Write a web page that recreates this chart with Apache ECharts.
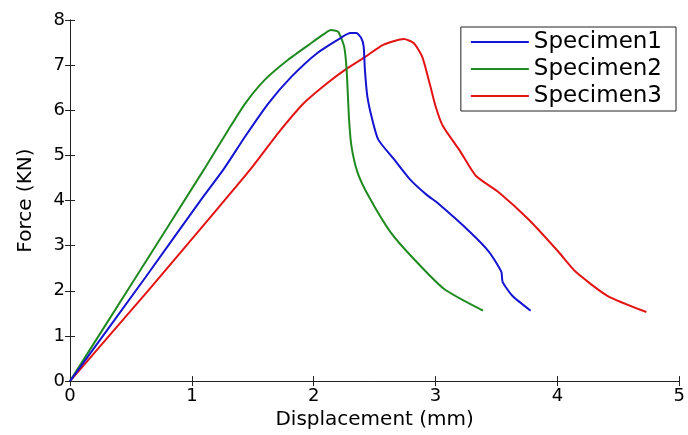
<!DOCTYPE html>
<html>
<head>
<meta charset="UTF-8">
<title>force_displacement</title>
<script src="https://cdn.jsdelivr.net/npm/echarts@6/dist/echarts.min.js"></script>
<style>
  html, body { margin: 0; padding: 0; background: #fff; }
  #main { width: 688px; height: 435px; }
</style>
</head>
<body>
<div id="main"></div>
<script type="text/javascript">
// [displacement (mm), force (KN)]
var specimen1 = [
  [0, 0], [0.62, 2.3], [1.07, 4.0], [1.26, 4.69], [1.44, 5.43], [1.63, 6.16],
  [1.82, 6.75], [2.03, 7.27], [2.22, 7.6], [2.3, 7.71], [2.35, 7.71],
  [2.39, 7.6], [2.41, 7.41], [2.42, 6.9], [2.44, 6.31], [2.48, 5.8],
  [2.53, 5.35], [2.66, 4.91], [2.79, 4.47], [2.93, 4.12], [3.01, 3.96],
  [3.28, 3.31], [3.44, 2.86], [3.54, 2.42], [3.55, 2.2], [3.63, 1.89],
  [3.78, 1.56]
];
var specimen2 = [
  [0, 0], [0.5, 2.13], [1.1, 4.69], [1.3, 5.57], [1.44, 6.16], [1.6, 6.68],
  [1.79, 7.12], [1.98, 7.49], [2.08, 7.68], [2.14, 7.78], [2.2, 7.74],
  [2.25, 7.41], [2.27, 6.9], [2.29, 5.8], [2.31, 5.2], [2.36, 4.62],
  [2.45, 4.1], [2.63, 3.3], [2.82, 2.71], [3.07, 2.04], [3.39, 1.56]
];
var specimen3 = [
  [0, 0], [0.64, 2.0], [1.22, 3.85], [1.48, 4.69], [1.71, 5.5], [1.92, 6.16],
  [2.11, 6.6], [2.28, 6.94], [2.41, 7.16], [2.57, 7.45], [2.74, 7.58],
  [2.82, 7.49], [2.89, 7.19], [2.95, 6.61], [3.0, 6.09], [3.06, 5.65],
  [3.2, 5.1], [3.33, 4.55], [3.52, 4.18], [3.76, 3.59], [4.01, 2.86],
  [4.15, 2.42], [4.41, 1.89], [4.73, 1.53]
];
var names = ['Specimen1', 'Specimen2', 'Specimen3'];
var colors = ['#1414d2', '#1f8a1f', '#e31414'];

var font = 'DejaVu Sans';
var myChart = echarts.init(document.getElementById('main'));

var axisLine = { show: true, lineStyle: { color: '#222', width: 1 } };
var tickIn = { show: true, inside: true, length: 5, lineStyle: { color: '#222' } };

function mkSeries(i, data) {
    return {
        name: names[i], type: 'line', symbol: 'none', data: data,
        smooth: 0.2,
        lineStyle: { width: 2 }, z: 3 - i
    };
}

option = {
    animation: false,
    color: colors,
    grid: { left: 70, right: 3, top: 20, bottom: 52, containLabel: false },
    legend: {
        data: names,
        orient: 'vertical',
        right: 12,
        top: 27,
        icon: 'rect',
        itemWidth: 58,
        itemHeight: 2,
        itemGap: 3,
        padding: [3, 14, 3, 10],
        borderColor: '#222',
        borderWidth: 1,
        backgroundColor: '#fff',
        textStyle: { fontFamily: font, fontSize: 23, lineHeight: 24, color: '#000' }
    },
    xAxis: [
        {
            type: 'value', min: 0, max: 5, interval: 1,
            name: 'Displacement (mm)', nameLocation: 'middle', nameGap: 26,
            nameTextStyle: { fontFamily: font, fontSize: 20, color: '#000' },
            axisLine: axisLine, axisTick: tickIn, splitLine: { show: false },
            axisLabel: { fontFamily: font, fontSize: 18, color: '#000', margin: 6 }
        },
        {
            type: 'value', position: 'top', min: 0, max: 5, interval: 1,
            axisLine: axisLine, axisTick: tickIn, splitLine: { show: false },
            axisLabel: { show: false }
        }
    ],
    yAxis: [
        {
            type: 'value', min: 0, max: 8, interval: 1,
            name: 'Force (KN)', nameLocation: 'middle', nameGap: 34,
            nameTextStyle: { fontFamily: font, fontSize: 20, color: '#000' },
            axisLine: axisLine, axisTick: tickIn, splitLine: { show: false },
            axisLabel: { fontFamily: font, fontSize: 18, color: '#000', margin: 5 }
        },
        {
            type: 'value', position: 'right', min: 0, max: 8, interval: 1,
            axisLine: axisLine, axisTick: tickIn, splitLine: { show: false },
            axisLabel: { show: false }
        }
    ],
    series: [
        mkSeries(0, specimen1),
        mkSeries(1, specimen2),
        mkSeries(2, specimen3)
    ]
};
myChart.setOption(option);
</script>
</body>
</html>
